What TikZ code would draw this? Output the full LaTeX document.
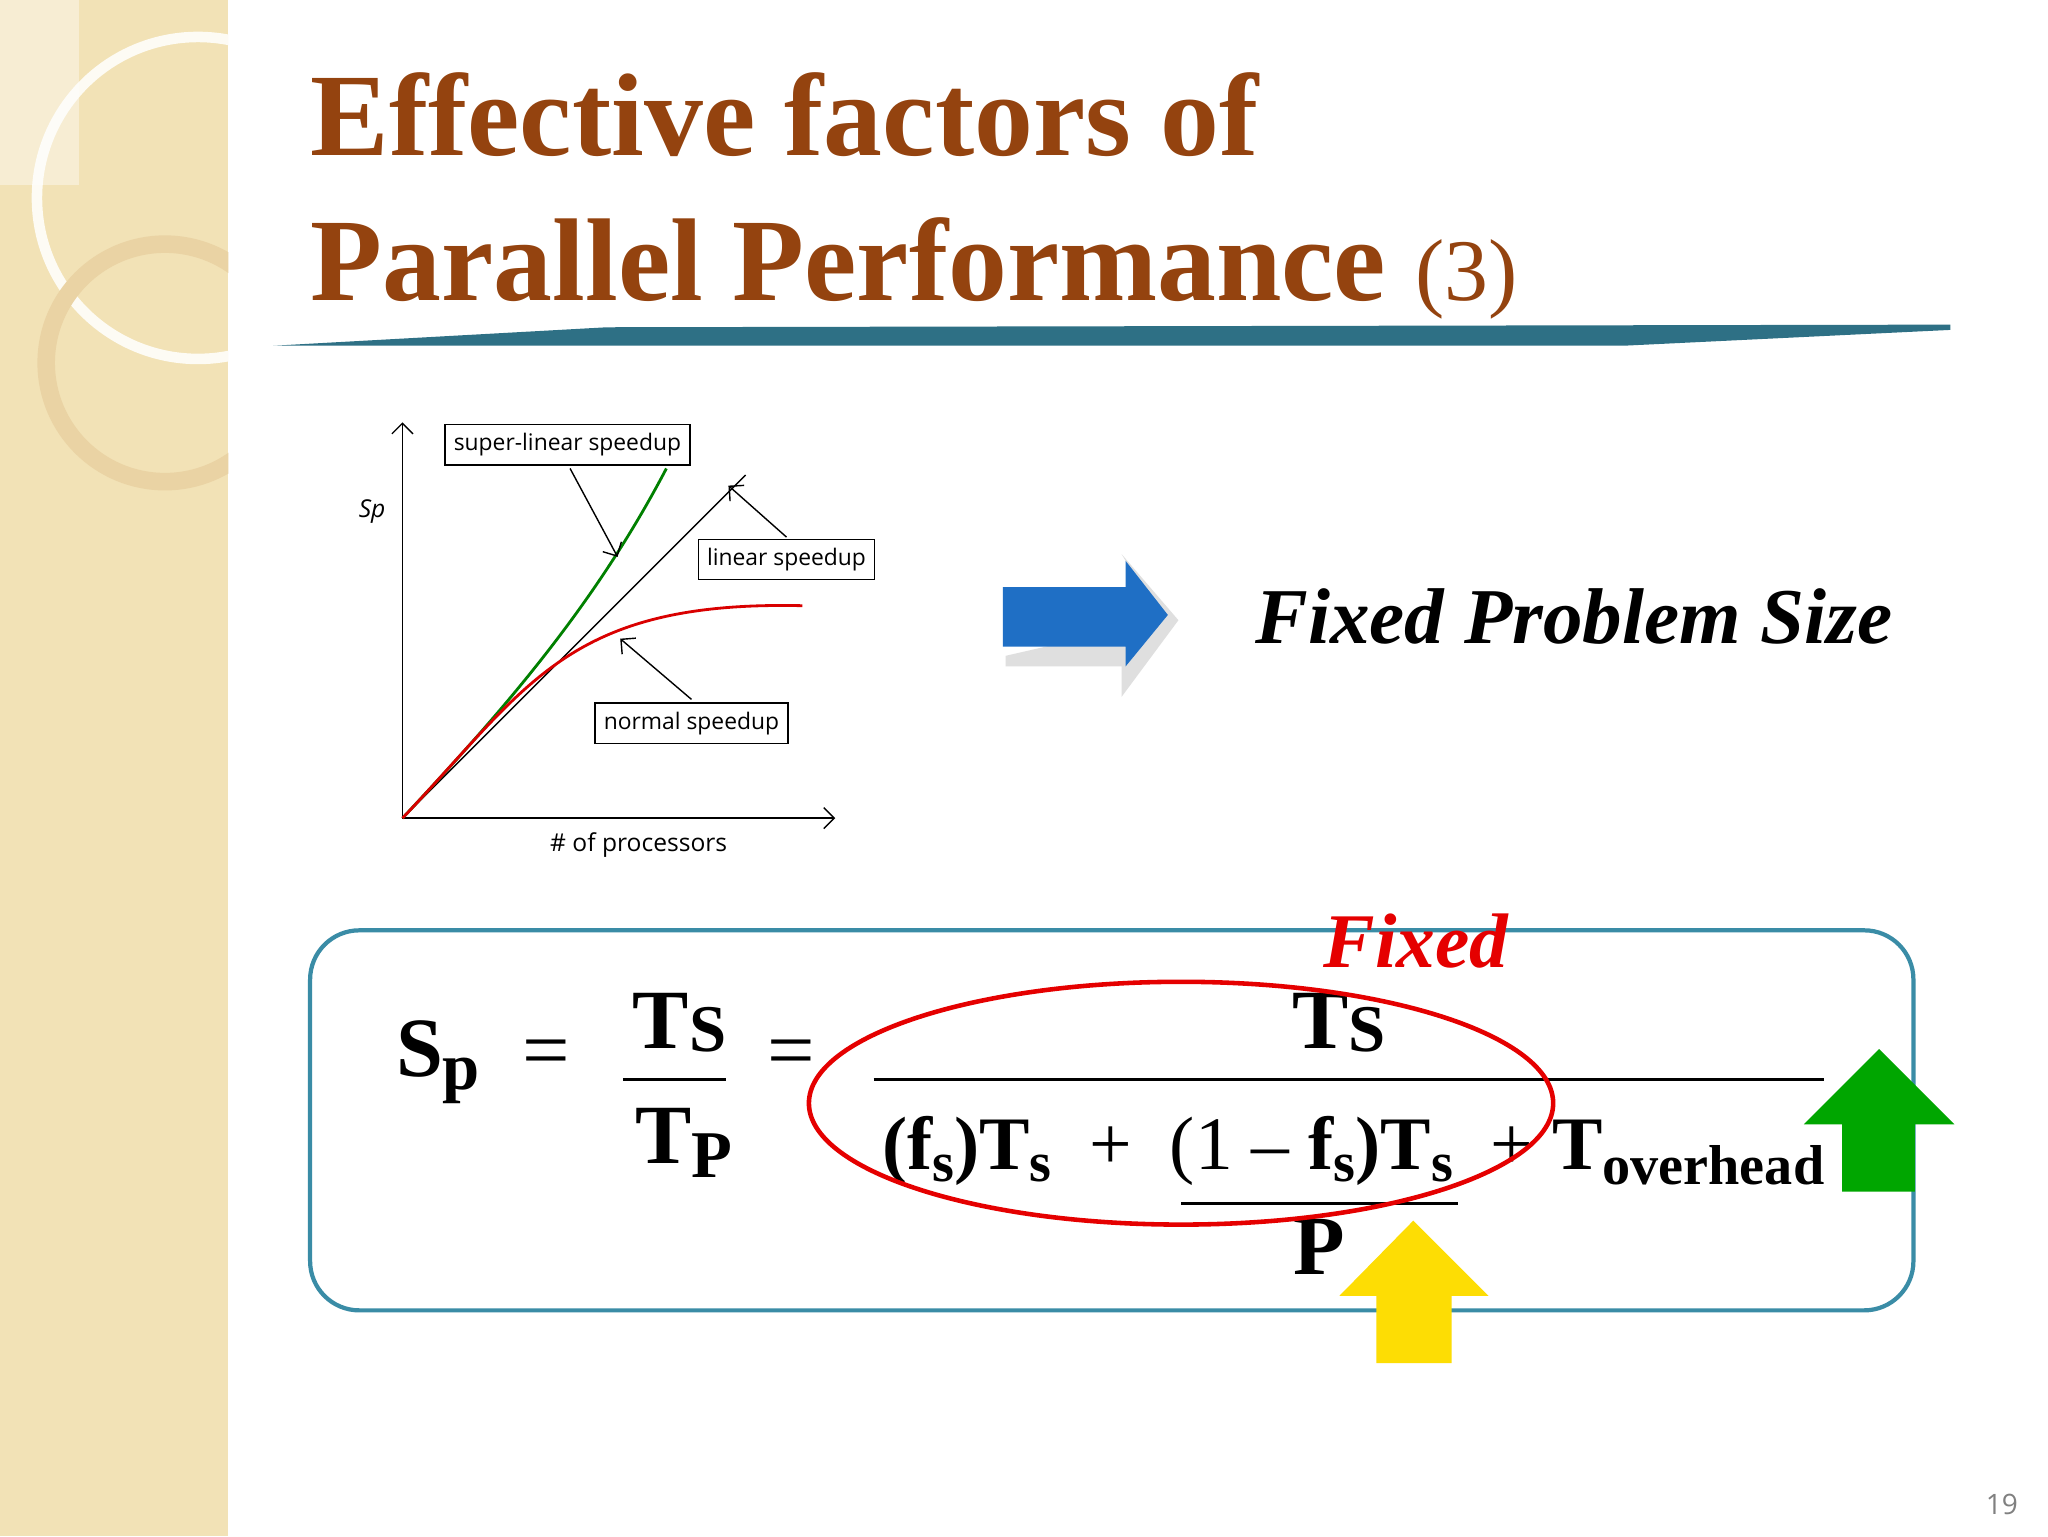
\documentclass[tikz,border=0pt]{standalone}
\usepackage{fontspec}
\setmainfont{Liberation Serif}
\newfontfamily\gsans{Open Sans}
\usetikzlibrary{arrows.meta,shapes.geometric}
\definecolor{tbrown}{HTML}{94430F}
\definecolor{teal}{HTML}{3A8CA6}
\definecolor{side}{HTML}{F2E2B6}
\definecolor{bluearr}{HTML}{1F6FC5}
\tikzset{lab/.style={draw,thin,fill=white,font=\gsans\fontsize{6.5}{8}\selectfont,inner sep=2.5pt},
 fml/.style={font=\bfseries\fontsize{24}{26}\selectfont},
 ptr/.style={-{Straight Barb[length=3pt]},thin}}
\begin{document}
\begin{tikzpicture}[x=0.0132cm,y=-0.0132cm]
\useasboundingbox (0,0) rectangle (1552,1164);
\fill[white] (0,0) rectangle (1552,1164);
\fill[side] (0,0) rectangle (173,1164);
\begin{scope}
\clip (0,0) rectangle (173,1164);
\draw[white!85!side,line width=3pt] (150,150) circle (122);
\draw[side!85!brown,line width=5pt] (125,275) circle (90);
\fill[white,opacity=0.4] (0,0) rectangle (60,140);
\end{scope}
\node[anchor=base west,text=tbrown,font=\bfseries\fontsize{33.5}{34}\selectfont,inner sep=0] (t1) at (235,118) {Effective factors of};
\node[anchor=base west,text=tbrown,font=\bfseries\fontsize{33.5}{34}\selectfont,inner sep=0] (t2) at (235,228) {Parallel Performance {\mdseries\fontsize{25}{26}\selectfont(3)}};
\fill[teal!80!black] (207,262) -- (460,248) -- (1478,246) -- (1478,250) -- (1230,262) -- cycle;
% graph
\coordinate (o) at (305,620);
\coordinate (ytop) at (305,320);
\coordinate (xend) at (633,620);
\draw[ptr] (o) -- (ytop);
\draw[ptr] (o) -- (xend);
\node[font=\gsans\itshape\fontsize{7}{8}\selectfont] (sp) at (282,388) {Sp};
\node[font=\gsans\fontsize{7}{8}\selectfont] (np) at (484,640) {\# of processors};
\draw[black] (o) -- (565,360);
\draw[green!50!black,thick] (o) .. controls (380,540) and (450,460) .. (505,355);
\draw[red!85!black,thick] (o) .. controls (400,520) and (430,455) .. (608,459);
\node[lab] (sl) at (430,337) {super-linear speedup};
\node[lab] (ls) at (596,424) {linear speedup};
\node[lab] (ns) at (524,548) {normal speedup};
\coordinate (a1) at (468,422);
\coordinate (a2) at (552,368);
\coordinate (a3) at (470,484);
\draw[ptr] (432,355) -- (a1);
\draw[ptr] (596,407) -- (a2);
\draw[ptr] (524,530) -- (a3);
% blue arrow
\fill[gray!25] (850,420) -- (893,470) -- (850,528) -- (850,505) -- (762,505) -- (762,497) -- (880,470) -- cycle;
\fill[bluearr] (760,445) -- (853,445) -- (853,425) -- (885,466) -- (853,505) -- (853,490) -- (760,490) -- cycle;
\node[font=\bfseries\itshape\fontsize{22.5}{24}\selectfont,anchor=west] (fps) at (942,467) {Fixed Problem Size};
% box
\draw[teal,line width=1.2pt,rounded corners=14pt] (235,705) rectangle (1450,993);
\node[fml] (sp2) at (332,805) {S\raisebox{-0.35ex}{\fontsize{19}{19}\selectfont p}};
\node[fml,font=\fontsize{24}{26}\selectfont] (eq1) at (414,803) {=};
\node[fml] (ts1) at (515,775) {T\raisebox{-0.1ex}{\fontsize{19}{19}\selectfont S}};
\draw[line width=0.8pt] (472,818) -- (550,818);
\node[fml] (tp1) at (518,866) {T\raisebox{-0.35ex}{\fontsize{19}{19}\selectfont P}};
\node[fml,font=\fontsize{24}{26}\selectfont] (eq2) at (600,803) {=};
\node[fml] (ts2) at (1015,775) {T\raisebox{-0.1ex}{\fontsize{19}{19}\selectfont S}};
\draw[line width=0.8pt] (662,818) -- (1382,818);
\node[fml,anchor=base west,inner sep=0,font=\bfseries\fontsize{21.5}{23}\selectfont] (den) at (668,886) {(f\raisebox{-0.35ex}{\fontsize{16}{16}\selectfont s})T\raisebox{-0.35ex}{\fontsize{16}{16}\selectfont s}\ \ {\mdseries +}\ \ {\mdseries(1 --} f\raisebox{-0.35ex}{\fontsize{16}{16}\selectfont s})T\raisebox{-0.35ex}{\fontsize{16}{16}\selectfont s}\ \ {\mdseries +} T\raisebox{-0.45ex}{\fontsize{16}{16}\selectfont overhead}};
\draw[line width=0.8pt] (895,912) -- (1105,912);
\node[fml] (pp) at (1000,945) {P};
\draw[red!90!black,line width=1.3pt] (895,836) ellipse [x radius=282,y radius=92];
\node[text=red!90!black,font=\bfseries\itshape\fontsize{22}{24}\selectfont] (fx) at (1073,713) {Fixed};
\fill[green!65!black] (1424,795) -- (1481,852) -- (1451,852) -- (1451,903) -- (1396,903) -- (1396,852) -- (1367,852) -- cycle;
\fill[yellow!80!orange] (1071,925) -- (1128,982) -- (1100,982) -- (1100,1033) -- (1043,1033) -- (1043,982) -- (1015,982) -- cycle;
\node[text=gray,font=\gsans\fontsize{8}{9}\selectfont] (pg) at (1517,1140) {19};
\end{tikzpicture}
\end{document}
